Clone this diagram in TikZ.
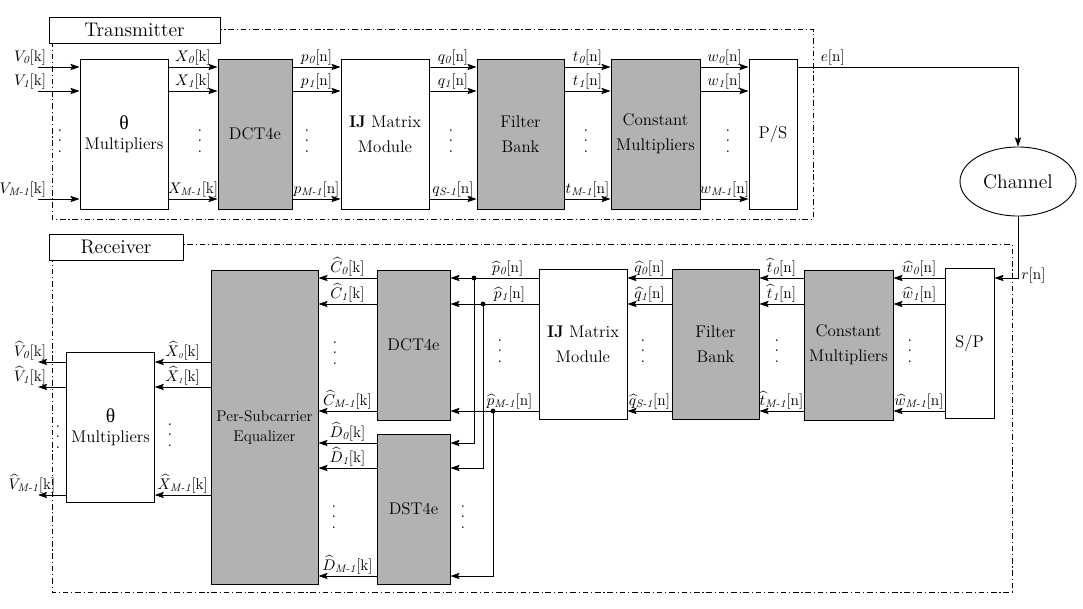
\documentclass[tikz,border=0pt]{standalone}
\usepackage{amsmath}
\usepackage{fontspec}
\newfontfamily\thetafont{Liberation Serif}
\usetikzlibrary{shapes.geometric, arrows.meta}
\tikzstyle{block} = [
    rectangle,
    draw=black,
    line width=0.65pt,
    minimum height=3.75cm,
    inner sep=1pt,
    align=center,
    font=\fontsize{12}{18}\selectfont
]
\tikzstyle{greyblock} = [block, fill=black!30]
\tikzstyle{thetablock} = [block, font=\fontsize{12}{14}\selectfont]
\tikzstyle{title} = [
    rectangle,
    draw=black,
    line width=0.65pt,
    fill=white,
    minimum height=0.65cm,
    font=\fontsize{14}{16}\selectfont
]
\tikzstyle{frame} = [line width=0.6pt, dash pattern=on 4pt off 2pt on 0.8pt off 2pt]
\tikzstyle{arrow} = [line width=0.65pt, ->, >={Stealth[length=6.5pt,width=4.5pt,inset=1.2pt]}]
\tikzstyle{lab} = [above, inner sep=1pt, font=\fontsize{11}{13}\selectfont]
\tikzstyle{dots} = [inner sep=0pt, font=\fontsize{12}{14}\selectfont]
\newcommand{\vdotsx}{\vbox{\baselineskip=7.4pt\lineskiplimit=0pt\hbox{.}\hbox{.}\hbox{.}}}
\newcommand{\thetasym}{{\thetafont\fontsize{14}{14}\selectfont θ}}

\begin{document}
\begin{tikzpicture}[x=0.025cm, y=-0.025cm]
\useasboundingbox (0,0) rectangle (1083,608);

\coordinate (t0) at (0,67);
\coordinate (t1) at (0,91);
\coordinate (t2) at (0,199);
\coordinate (b0) at (0,278);
\coordinate (b1) at (0,304);
\coordinate (b2) at (0,411);
\coordinate (d0) at (0,443);
\coordinate (d1) at (0,468);
\coordinate (d2) at (0,576);
\coordinate (x0) at (0,362);
\coordinate (x1) at (0,387);
\coordinate (x2) at (0,495);
\coordinate (in) at (38,0);
\coordinate (j0) at (474,0);
\coordinate (j1) at (483,0);
\coordinate (j2) at (493,0);

\draw [frame] (52,29) rectangle (813,219);
\node (tx) [title, minimum width=4.275cm] at (134.5,30) {Transmitter};

\node (theta) [thetablock, minimum width=2.2cm] at (124,134) {\thetasym\\Multipliers};
\node (dct) [greyblock, minimum width=1.85cm] at (255,134) {DCT4e};
\node (ij) [block, minimum width=2.2cm] at (385,134) {\textbf{IJ} Matrix\\Module};
\node (fb) [greyblock, minimum width=2.175cm] at (520.5,134) {Filter\\Bank};
\node (cm) [greyblock, minimum width=2.225cm] at (655.5,134) {Constant\\Multipliers};
\node (ps) [block, minimum width=1.2cm] at (773,134) {P/S};

\node (channel) [ellipse, draw=black, line width=0.65pt, minimum width=2.9cm,
    minimum height=1.725cm, font=\fontsize{14}{16}\selectfont] at (1018,181.5) {Channel};

\draw [frame] (52,244) rectangle (1012,592);
\node (rx) [title, minimum width=3.35cm] at (116,247) {Receiver};

\node (sp) [block, minimum width=1.225cm] at (969.5,343) {S/P};
\node (cmr) [greyblock, minimum width=2.225cm] at (848.5,345) {Constant\\Multipliers};
\node (fbr) [greyblock, minimum width=2.175cm] at (715.5,344) {Filter\\Bank};
\node (ijr) [block, minimum width=2.2cm] at (583,344) {\textbf{IJ} Matrix\\Module};
\node (dctr) [greyblock, minimum width=1.825cm] at (413.5,345) {DCT4e};
\node (dstr) [greyblock, minimum width=1.825cm] at (413.5,509) {DST4e};
\node (eq) [greyblock, minimum width=2.675cm, minimum height=7.84cm,
    font=\fontsize{11}{13.8}\selectfont] at (264.5,427.5) {Per-Subcarrier\\Equalizer};
\node (thetar) [thetablock, minimum width=2.19cm] at (110.5,427) {\thetasym\\Multipliers};

\draw [arrow] (in |- t0) -- node[lab, pos=0, anchor=south east, xshift=0.25cm] {$V_{\textit{0}}$[k]} (theta.west |- t0);
\draw [arrow] (in |- t1) -- node[lab, pos=0, anchor=south east, xshift=0.25cm] {$V_{\textit{1}}$[k]} (theta.west |- t1);
\draw [arrow] (in |- t2) -- node[lab, pos=0, anchor=south east, xshift=0.25cm] {$V_{\textit{M-1}}$[k]} (theta.west |- t2);

\draw [arrow] (theta.east |- t0) -- node[lab] {$X_{\textit{0}}$[k]} (dct.west |- t0);
\draw [arrow] (theta.east |- t1) -- node[lab] {$X_{\textit{1}}$[k]} (dct.west |- t1);
\draw [arrow] (theta.east |- t2) -- node[lab] {$X_{\textit{M-1}}$[k]} (dct.west |- t2);

\draw [arrow] (dct.east |- t0) -- node[lab] {$p_{\textit{0}}$[n]} (ij.west |- t0);
\draw [arrow] (dct.east |- t1) -- node[lab] {$p_{\textit{1}}$[n]} (ij.west |- t1);
\draw [arrow] (dct.east |- t2) -- node[lab] {$p_{\textit{M-1}}$[n]} (ij.west |- t2);

\draw [arrow] (ij.east |- t0) -- node[lab] {$q_{\textit{0}}$[n]} (fb.west |- t0);
\draw [arrow] (ij.east |- t1) -- node[lab] {$q_{\textit{1}}$[n]} (fb.west |- t1);
\draw [arrow] (ij.east |- t2) -- node[lab] {$q_{\textit{S-1}}$[n]} (fb.west |- t2);

\draw [arrow] (fb.east |- t0) -- node[lab] {$t_{\textit{0}}$[n]} (cm.west |- t0);
\draw [arrow] (fb.east |- t1) -- node[lab] {$t_{\textit{1}}$[n]} (cm.west |- t1);
\draw [arrow] (fb.east |- t2) -- node[lab] {$t_{\textit{M-1}}$[n]} (cm.west |- t2);

\draw [arrow] (cm.east |- t0) -- node[lab] {$w_{\textit{0}}$[n]} (ps.west |- t0);
\draw [arrow] (cm.east |- t1) -- node[lab] {$w_{\textit{1}}$[n]} (ps.west |- t1);
\draw [arrow] (cm.east |- t2) -- node[lab] {$w_{\textit{M-1}}$[n]} (ps.west |- t2);

\draw [arrow] (ps.east |- t0) -| node[lab, pos=0.08] {$e$[n]} (channel.north);
\draw [arrow] (channel.south) |- node[pos=0.5, anchor=west, yshift=2pt, inner sep=2pt,
    font=\fontsize{11}{13}\selectfont] {$r$[n]} (sp.east |- b0);

\draw [arrow] (sp.west |- b0) -- node[lab] {$\widehat{w}_{\textit{0}}$[n]} (cmr.east |- b0);
\draw [arrow] (sp.west |- b1) -- node[lab] {$\widehat{w}_{\textit{1}}$[n]} (cmr.east |- b1);
\draw [arrow] (sp.west |- b2) -- node[lab] {$\widehat{w}_{\textit{M-1}}$[n]} (cmr.east |- b2);

\draw [arrow] (cmr.west |- b0) -- node[lab] {$\widehat{t}_{\textit{0}}$[n]} (fbr.east |- b0);
\draw [arrow] (cmr.west |- b1) -- node[lab] {$\widehat{t}_{\textit{1}}$[n]} (fbr.east |- b1);
\draw [arrow] (cmr.west |- b2) -- node[lab] {$\widehat{t}_{\textit{M-1}}$[n]} (fbr.east |- b2);

\draw [arrow] (fbr.west |- b0) -- node[lab] {$\widehat{q}_{\textit{0}}$[n]} (ijr.east |- b0);
\draw [arrow] (fbr.west |- b1) -- node[lab] {$\widehat{q}_{\textit{1}}$[n]} (ijr.east |- b1);
\draw [arrow] (fbr.west |- b2) -- node[lab] {$\widehat{q}_{\textit{S-1}}$[n]} (ijr.east |- b2);

\draw [arrow] (ijr.west |- b0) -- node[lab, pos=0.35] {$\widehat{p}_{\textit{0}}$[n]} (dctr.east |- b0);
\draw [arrow] (ijr.west |- b1) -- node[lab, pos=0.33] {$\widehat{p}_{\textit{1}}$[n]} (dctr.east |- b1);
\draw [arrow] (ijr.west |- b2) -- node[lab, pos=0.33] {$\widehat{p}_{\textit{M-1}}$[n]} (dctr.east |- b2);

\fill (j0 |- b0) circle (1.7pt);
\fill (j1 |- b1) circle (1.7pt);
\fill (j2 |- b2) circle (1.7pt);
\draw [arrow] (j0 |- b0) |- (dstr.east |- d0);
\draw [arrow] (j1 |- b1) |- (dstr.east |- d1);
\draw [arrow] (j2 |- b2) |- (dstr.east |- d2);

\draw [arrow] (dctr.west |- b0) -- node[lab] {$\widehat{C}_{\textit{0}}$[k]} (eq.east |- b0);
\draw [arrow] (dctr.west |- b1) -- node[lab] {$\widehat{C}_{\textit{1}}$[k]} (eq.east |- b1);
\draw [arrow] (dctr.west |- b2) -- node[lab] {$\widehat{C}_{\textit{M-1}}$[k]} (eq.east |- b2);

\draw [arrow] (dstr.west |- d0) -- node[lab] {$\widehat{D}_{\textit{0}}$[k]} (eq.east |- d0);
\draw [arrow] (dstr.west |- d1) -- node[lab] {$\widehat{D}_{\textit{1}}$[k]} (eq.east |- d1);
\draw [arrow] (dstr.west |- d2) -- node[lab] {$\widehat{D}_{\textit{M-1}}$[k]} (eq.east |- d2);

\draw [arrow] (eq.west |- x0) -- node[lab] {$\widehat{X}_{\scriptscriptstyle\textit{0}}$[k]} (thetar.east |- x0);
\draw [arrow] (eq.west |- x1) -- node[lab] {$\widehat{X}_{\scriptscriptstyle\textit{1}}$[k]} (thetar.east |- x1);
\draw [arrow] (eq.west |- x2) -- node[lab] {$\widehat{X}_{\textit{M-1}}$[k]} (thetar.east |- x2);

\draw [arrow] (thetar.west |- x0) -- node[lab, pos=1, xshift=-0.2cm] {$\widehat{V}_{\textit{0}}$[k]} (in |- x0);
\draw [arrow] (thetar.west |- x1) -- node[lab, pos=1, xshift=-0.2cm] {$\widehat{V}_{\textit{1}}$[k]} (in |- x1);
\draw [arrow] (thetar.west |- x2) -- node[lab, pos=1, xshift=-0.15cm] {$\widehat{V}_{\textit{M-1}}$[k]} (in |- x2);

\node (dotsv) [dots] at (60,141) {\vdotsx};
\node (dotsx) [dots] at (200,141) {\vdotsx};
\node (dotsp) [dots] at (307,141) {\vdotsx};
\node (dotsq) [dots] at (451,141) {\vdotsx};
\node (dotst) [dots] at (586,141) {\vdotsx};
\node (dotsw) [dots] at (728,141) {\vdotsx};

\node (dotswr) [dots] at (910,351) {\vdotsx};
\node (dotstr) [dots] at (777,351) {\vdotsx};
\node (dotsqr) [dots] at (643,351) {\vdotsx};
\node (dotspr) [dots] at (500,351) {\vdotsx};
\node (dotsc) [dots] at (335,353) {\vdotsx};
\node (dotsd) [dots] at (334,517) {\vdotsx};
\node (dotsj) [dots] at (463,517) {\vdotsx};
\node (dotsxr) [dots] at (170,435) {\vdotsx};
\node (dotsvr) [dots] at (58,437) {\vdotsx};

\end{tikzpicture}
\end{document}
